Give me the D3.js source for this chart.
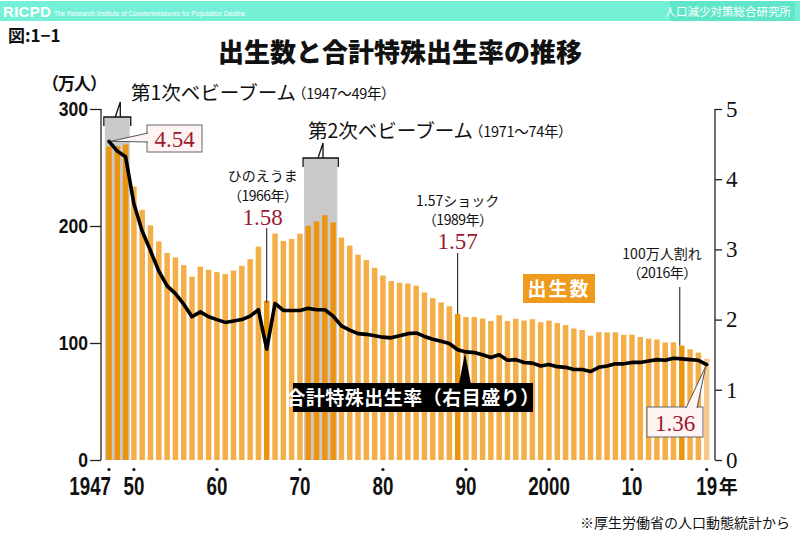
<!DOCTYPE html>
<html><head><meta charset="utf-8">
<script src="https://cdn.jsdelivr.net/npm/d3@7"></script>
<style>
html,body{margin:0;padding:0;background:#fff;}
svg{display:block;}
</style></head>
<body>
<svg id="chart" width="800" height="536"></svg>
<script>
// ---------- DATA ----------
const years = d3.range(1947, 2020);
const births = [ // 万人
  267.9, 268.2, 269.7, 233.8, 213.8, 200.5, 186.8, 177.0, 173.1, 166.5,
  156.7, 165.3, 162.6, 160.6, 158.9, 161.9, 166.0, 171.7, 182.4, 136.1,
  193.6, 187.2, 188.9, 193.4, 200.1, 203.9, 209.2, 203.0, 190.1, 183.3,
  175.5, 170.9, 164.3, 157.7, 152.9, 151.5, 150.9, 149.0, 143.2, 138.3,
  134.7, 131.4, 124.7, 122.2, 122.3, 120.9, 118.8, 123.8, 118.7, 120.7,
  119.2, 120.3, 117.8, 119.1, 117.1, 115.4, 112.4, 111.1, 106.3, 109.3,
  109.0, 109.1, 107.0, 107.1, 105.1, 103.7, 103.0, 100.4, 100.6, 97.7,
  94.6, 91.8, 86.5
];
const tfr = [
  4.54, 4.40, 4.32, 3.65, 3.26, 2.98, 2.69, 2.48, 2.37, 2.22,
  2.04, 2.11, 2.04, 2.00, 1.96, 1.98, 2.00, 2.05, 2.14, 1.58,
  2.23, 2.13, 2.13, 2.13, 2.16, 2.14, 2.14, 2.05, 1.91, 1.85,
  1.80, 1.79, 1.77, 1.75, 1.74, 1.77, 1.80, 1.81, 1.76, 1.72,
  1.69, 1.66, 1.57, 1.54, 1.53, 1.50, 1.46, 1.50, 1.42, 1.43,
  1.39, 1.38, 1.34, 1.36, 1.33, 1.32, 1.29, 1.29, 1.26, 1.32,
  1.34, 1.37, 1.37, 1.39, 1.39, 1.41, 1.43, 1.42, 1.45, 1.44,
  1.43, 1.42, 1.36
];
const highlightYears = [1947, 1948, 1949, 1966, 1971, 1972, 1973, 1974, 1989, 2016];
const provisionalYear = 2019;
const boomPeriods = [[1947, 1949], [1971, 1974]];
const xTickYears = [1947, 1950, 1960, 1970, 1980, 1990, 2000, 2010, 2019];
const xTickLabels = ["1947", "50", "60", "70", "80", "90", "2000", "10", "19"];
const leftTicks = [0, 100, 200, 300];
const rightTicks = [0, 1, 2, 3, 4, 5];

// ---------- SETUP ----------
const svg = d3.select("#chart");
const JP = "'Noto Sans CJK JP','Noto Sans',sans-serif";
const NUM = "'Liberation Sans','Arial',sans-serif";
const SERIF = "'Liberation Serif','DejaVu Serif',serif";
const RED = "#9a1a2e";

const x = d3.scaleBand().domain(years).range([104.85, 710.85]).paddingInner(0.34).paddingOuter(0.17);
const cx = y => x(y) + x.bandwidth() / 2;
const yL = d3.scaleLinear().domain([0, 300]).range([460, 109]);
const yR = d3.scaleLinear().domain([0, 5]).range([460, 109]);
const data = years.map((yr, i) => ({ year: yr, births: births[i], tfr: tfr[i] }));

// ---------- HEADER ----------
svg.append("rect").attr("x", 0).attr("y", 1).attr("width", 800).attr("height", 20).attr("fill", "#74f0d7");
svg.append("rect").attr("x", 670).attr("y", 1).attr("width", 125).attr("height", 20).attr("fill", "#5fe6c9");
svg.append("text").attr("x", 3).attr("y", 17).text("RICPD")
  .attr("font-family", "'Liberation Sans','DejaVu Sans',sans-serif").attr("font-weight", "bold")
  .attr("font-size", 15).attr("fill", "#fff").attr("letter-spacing", 0.3);
svg.append("text").attr("x", 54).attr("y", 16).text("The Research Institute of Countermeasures for Population Decline")
  .attr("font-family", NUM).attr("font-size", 6.5).attr("fill", "#fff");
svg.append("text").attr("x", 791).attr("y", 15.5).attr("text-anchor", "end").text("人口減少対策総合研究所")
  .attr("font-family", JP).attr("font-size", 11.5).attr("fill", "#fff");

// ---------- TITLES ----------
svg.append("text").attr("x", 8).attr("y", 42).text("図:1−1")
  .attr("font-family", JP).attr("font-weight", "bold").attr("font-size", 17).attr("fill", "#111");
svg.append("text").attr("x", 400).attr("y", 62).attr("text-anchor", "middle").text("出生数と合計特殊出生率の推移")
  .attr("font-family", JP).attr("font-weight", 900).attr("font-size", 26).attr("fill", "#111");
svg.append("text").attr("x", 42).attr("y", 90).text("（万人）")
  .attr("font-family", JP).attr("font-weight", "bold").attr("font-size", 17).attr("fill", "#111")
  .attr("letter-spacing", -1);

// ---------- BOOM BOXES ----------
const boomTop = [117, 158];
boomPeriods.forEach((p, i) => {
  const pad = x.step() * x.paddingInner() / 2;
  const x0 = x(p[0]) - pad, x1 = x(p[1]) + x.bandwidth() + pad;
  const t = boomTop[i];
  svg.append("rect").attr("x", x0).attr("y", t).attr("width", x1 - x0).attr("height", 460 - t).attr("fill", "#c9c9c9");
  svg.append("path").attr("d", `M${x0 - 1},${t + 9} V${t} H${x1 + 1} V${t + 9}`)
    .attr("fill", "none").attr("stroke", "#111").attr("stroke-width", 1.3);
  const mx = x0 + (x1 - x0) * 0.42;
  svg.append("path").attr("d", `M${mx},${t} L${mx + 5},${t - 15} V${t}`)
    .attr("fill", "none").attr("stroke", "#111").attr("stroke-width", 1.3);
});

// ---------- BARS ----------
svg.append("g").selectAll("rect").data(data).join("rect")
  .attr("x", d => x(d.year)).attr("width", x.bandwidth())
  .attr("y", d => yL(d.births)).attr("height", d => yL(0) - yL(d.births))
  .attr("fill", d => d.year === provisionalYear ? "#f8c98c" : (highlightYears.includes(d.year) ? "#eb9410" : "#f4ae47"));

// ---------- AXES ----------
const gL = svg.append("g").attr("transform", "translate(101,0)")
  .call(d3.axisLeft(yL).tickValues(leftTicks).tickSize(11).tickPadding(0).tickFormat(d3.format("d")));
gL.selectAll("text").attr("x", 0)
  .attr("transform", "translate(-13,0) scale(0.9,1)")
  .attr("font-family", NUM).attr("font-weight", "bold").attr("font-size", 19.5).attr("fill", "#111");
gL.selectAll("line,path").attr("stroke", "#222").attr("stroke-width", 1.3);
gL.select(".domain").attr("d", "M0,109V460");

const gR = svg.append("g").attr("transform", "translate(715,0)")
  .call(d3.axisRight(yR).tickValues(rightTicks).tickSize(7).tickPadding(4).tickFormat(d3.format("d")));
gR.selectAll("text").attr("font-family", SERIF).attr("font-size", 23).attr("fill", "#111");
gR.selectAll("line,path").attr("stroke", "#222").attr("stroke-width", 1.3);
gR.select(".domain").attr("d", "M0,109V460");

// x ticks (dots + labels)
const gx = svg.append("g");
gx.selectAll("circle").data(xTickYears).join("circle")
  .attr("cx", d => cx(d)).attr("cy", 469.5).attr("r", 1.6).attr("fill", "#111");
gx.selectAll("text").data(xTickYears).join("text")
  .attr("transform", (d, i) => `translate(${i === 0 ? cx(d) + 2 : cx(d)},495) scale(0.75,1)`)
  .attr("text-anchor", (d, i) => i === 0 ? "end" : "middle")
  .text((d, i) => xTickLabels[i])
  .attr("font-family", NUM).attr("font-weight", "bold").attr("font-size", 25).attr("fill", "#111");
svg.append("text").attr("x", cx(2019) + 12).attr("y", 494).text("年")
  .attr("font-family", JP).attr("font-weight", "bold").attr("font-size", 19).attr("fill", "#111");

// ---------- LINE ----------
const line = d3.line().x(d => cx(d.year)).y(d => yR(d.tfr));
svg.append("path").datum(data).attr("d", line)
  .attr("fill", "none").attr("stroke", "#000").attr("stroke-width", 3.6)
  .attr("stroke-linejoin", "round").attr("stroke-linecap", "round");

// ---------- ANNOTATIONS ----------
function txt(xp, yp, s, size, opts = {}) {
  return svg.append("text").attr("x", xp).attr("y", yp).text(s)
    .attr("text-anchor", opts.anchor || "middle")
    .attr("font-family", opts.font || JP).attr("font-size", size)
    .attr("font-weight", opts.weight || "normal").attr("fill", opts.fill || "#111");
}
txt(131, 100, "第1次ベビーブーム", 19.5, { anchor: "start" });
txt(292, 99, "（1947〜49年）", 14.5, { anchor: "start" }).attr("letter-spacing", -0.3);
txt(308, 138, "第2次ベビーブーム", 19.5, { anchor: "start" });
txt(469, 137, "（1971〜74年）", 14.5, { anchor: "start" }).attr("letter-spacing", -0.3);

// 4.54 callout
svg.append("rect").attr("x", 147).attr("y", 125).attr("width", 55).attr("height", 27)
  .attr("fill", "#fff4f4").attr("stroke", "#666").attr("stroke-width", 1);
svg.append("path").attr("d", `M148,133 L${cx(1947) + 2},${yR(4.54)} L148,142`)
  .attr("fill", "#fff4f4").attr("stroke", "#555").attr("stroke-width", 1);
txt(174.5, 147, "4.54", 23, { font: SERIF, fill: RED });

// ひのえうま
txt(cx(1966) - 4, 181, "ひのえうま", 14);
txt(cx(1966) - 4, 201, "（1966年）", 14).attr("letter-spacing", -0.5);
txt(cx(1966) - 4, 225, "1.58", 23, { font: SERIF, fill: RED });
svg.append("line").attr("x1", cx(1966)).attr("x2", cx(1966)).attr("y1", 228).attr("y2", yL(births[19]) + 2)
  .attr("stroke", "#111").attr("stroke-width", 1);

// 1.57 shock
txt(cx(1989), 206, "1.57ショック", 14);
txt(cx(1989), 225, "（1989年）", 14).attr("letter-spacing", -0.5);
txt(cx(1989), 249, "1.57", 23, { font: SERIF, fill: RED });
svg.append("line").attr("x1", cx(1989)).attr("x2", cx(1989)).attr("y1", 253).attr("y2", yL(births[42]))
  .attr("stroke", "#111").attr("stroke-width", 1);

// 100万人割れ
txt(662, 259, "100万人割れ", 14);
txt(662, 278, "（2016年）", 14).attr("letter-spacing", -0.5);
svg.append("line").attr("x1", cx(2016) - 2).attr("x2", cx(2016) - 2).attr("y1", 287).attr("y2", yL(births[69]))
  .attr("stroke", "#111").attr("stroke-width", 1);

// 出生数 label
svg.append("rect").attr("x", 523).attr("y", 274).attr("width", 72).attr("height", 29).attr("fill", "#ee9a1c");
txt(559, 296, "出生数", 19, { weight: "bold", fill: "#fff" }).attr("letter-spacing", 2);

// TFR label
svg.append("path").attr("d", `M459,384 L${cx(1990) - 1},${yR(1.54) + 1} L471,384 Z`).attr("fill", "#000");
svg.append("rect").attr("x", 293).attr("y", 383).attr("width", 240).attr("height", 29).attr("fill", "#000");
txt(413, 404.5, "合計特殊出生率（右目盛り）", 19, { weight: "bold", fill: "#fff" }).attr("letter-spacing", 0.5);

// 1.36 callout
svg.append("rect").attr("x", 647).attr("y", 407).attr("width", 56).attr("height", 30)
  .attr("fill", "#fff4f4").attr("stroke", "#666").attr("stroke-width", 1);
svg.append("path").attr("d", `M686,408 L${cx(2019) - 1},${yR(1.36) + 2} L697,408`)
  .attr("fill", "#fff4f4").attr("stroke", "#555").attr("stroke-width", 1);
txt(675, 431, "1.36", 23, { font: SERIF, fill: RED });

// Footnote
txt(790, 528, "※厚生労働省の人口動態統計から", 14, { anchor: "end" });
</script>
</body></html>
